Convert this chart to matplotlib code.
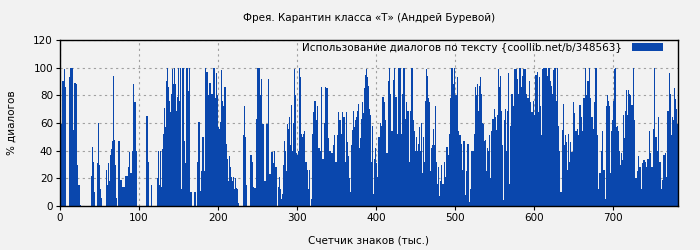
import matplotlib
matplotlib.use('Agg')
import matplotlib.pyplot as plt
import numpy as np

# dialogue share (%) per thousand characters of text
usage = [
    41, 59, 59, 90, 90, 99, 86, 36, 0, 0, 0, 52, 93, 100, 100, 100, 100, 55, 89, 89, 88, 50, 30, 15, 15,
    1, 0, 0, 0, 0, 0, 0, 0, 0, 0, 0, 0, 0, 0, 22, 22, 43, 32, 10, 0, 0, 0, 31, 60, 30, 30,
    12, 6, 0, 0, 0, 0, 0, 26, 15, 15, 31, 18, 37, 41, 41, 47, 94, 48, 30, 30, 6, 0, 23, 47, 47,
    19, 19, 18, 14, 14, 14, 22, 42, 22, 22, 28, 39, 46, 24, 24, 40, 94, 88, 75, 75, 40, 0, 0, 0, 0,
    0, 0, 0, 0, 0, 0, 0, 0, 65, 65, 32, 0, 0, 0, 15, 15, 0, 0, 0, 0, 0, 0, 20, 40, 15, 15,
    40, 14, 41, 52, 52, 71, 57, 90, 100, 100, 86, 76, 68, 81, 81, 99, 88, 100, 88, 88, 69, 79, 100, 76, 76,
    100, 12, 43, 100, 100, 47, 31, 31, 100, 100, 83, 100, 100, 10, 10, 0, 0, 21, 10, 10, 0, 32, 99, 61, 61,
    11, 25, 25, 50, 50, 25, 99, 100, 97, 97, 80, 90, 89, 89, 81, 81, 100, 100, 100, 78, 78, 96, 80, 57, 56, 56,
    61, 98, 76, 72, 72, 86, 86, 45, 34, 34, 18, 36, 28, 21, 21, 18, 21, 12, 20, 20, 13, 12, 2, 0, 0,
    0, 0, 0, 51, 51, 72, 50, 15, 0, 0, 0, 0, 7, 37, 37, 32, 14, 0, 13, 13, 63, 100, 92, 100, 100,
    80, 92, 79, 59, 59, 18, 34, 18, 59, 59, 92, 100, 23, 23, 39, 39, 48, 31, 40, 28, 28, 7, 0, 14, 21, 21,
    12, 5, 9, 30, 30, 47, 40, 25, 59, 59, 56, 64, 44, 73, 73, 40, 60, 99, 80, 80, 38, 37, 40, 100, 100,
    93, 52, 50, 52, 52, 54, 32, 32, 26, 26, 12, 26, 0, 5, 5, 52, 68, 91, 76, 76, 62, 72, 61, 42, 42,
    40, 86, 100, 34, 34, 60, 86, 99, 85, 85, 49, 9, 40, 40, 38, 38, 22, 44, 51, 32, 32, 44, 51, 68, 62, 62,
    44, 52, 68, 64, 64, 42, 32, 68, 46, 46, 36, 20, 10, 44, 44, 55, 69, 57, 62, 62, 64, 69, 74, 42, 42,
    49, 63, 75, 67, 67, 85, 95, 99, 93, 93, 87, 70, 66, 32, 32, 58, 9, 34, 42, 42, 31, 21, 40, 50, 50,
    60, 58, 67, 79, 79, 75, 62, 54, 38, 38, 90, 100, 81, 81, 54, 54, 73, 91, 100, 79, 79, 74, 52, 100, 100, 100,
    79, 52, 81, 100, 100, 100, 63, 75, 69, 69, 60, 32, 69, 100, 100, 100, 62, 54, 40, 40, 50, 40, 45, 57, 57,
    40, 60, 24, 50, 50, 32, 76, 99, 94, 94, 78, 75, 25, 42, 42, 44, 56, 44, 72, 72, 32, 16, 28, 7, 7,
    18, 30, 44, 16, 16, 32, 21, 5, 43, 43, 37, 52, 78, 78, 100, 100, 88, 71, 100, 80, 80, 93, 72, 54, 51, 51,
    42, 45, 26, 47, 47, 47, 8, 25, 45, 45, 22, 3, 12, 40, 40, 45, 40, 52, 86, 86, 80, 88, 69, 87, 87,
    93, 81, 60, 59, 59, 47, 48, 25, 42, 42, 40, 51, 20, 54, 54, 63, 63, 70, 64, 64, 55, 66, 99, 86, 86,
    94, 69, 44, 4, 4, 62, 70, 40, 69, 69, 96, 16, 58, 58, 81, 81, 72, 85, 99, 99, 99, 92, 99, 81, 100, 100,
    86, 85, 94, 99, 99, 75, 99, 81, 78, 78, 75, 90, 75, 68, 68, 84, 76, 66, 95, 95, 99, 97, 68, 93, 93,
    72, 51, 99, 100, 100, 100, 100, 100, 94, 94, 100, 100, 90, 87, 87, 81, 98, 100, 100, 100, 76, 100, 58, 40, 40,
    10, 10, 55, 74, 74, 44, 51, 46, 26, 26, 52, 32, 46, 46, 39, 39, 75, 100, 67, 54, 54, 56, 37, 51, 73, 73,
    64, 51, 54, 78, 78, 100, 54, 80, 90, 90, 100, 100, 78, 64, 64, 85, 56, 75, 100, 100, 25, 51, 12, 24, 24,
    12, 40, 54, 26, 26, 5, 5, 72, 80, 80, 76, 72, 24, 54, 54, 62, 76, 99, 100, 100, 57, 58, 54, 40, 40,
    30, 38, 33, 66, 66, 49, 69, 84, 66, 66, 84, 81, 80, 80, 73, 73, 100, 62, 24, 20, 20, 25, 46, 36, 28, 28,
    12, 26, 31, 33, 33, 32, 19, 28, 34, 34, 54, 59, 38, 28, 28, 56, 34, 100, 50, 50, 20, 40, 64, 32, 32,
    20, 12, 19, 37, 37, 19, 38, 21, 69, 69, 100, 96, 81, 51, 51, 64, 62, 85, 77, 77, 70, 59,
]
chars_k = np.arange(len(usage))

title = 'Фрея. Карантин класса «Т» (Андрей Буревой)'
series_label = 'Использование диалогов по тексту {coollib.net/b/348563}'

bg = '#f2f2f2'
blue = '#0a47ad'

plt.rcParams['font.family'] = 'DejaVu Sans'
plt.rcParams['font.size'] = 7.5

fig = plt.figure(figsize=(7, 2.5), dpi=100, facecolor=bg)
ax = fig.add_axes([60 / 700, 44 / 250, 618 / 700, 166 / 250])
ax.set_facecolor(bg)

ax.bar(chars_k, usage, width=1.0, align='edge', color=blue, linewidth=0,
       label=series_label, zorder=2)

ax.set_xlim(0, 782)
ax.set_ylim(0, 120)
ax.set_xticks(np.arange(0, 800, 100))
ax.set_yticks(np.arange(0, 140, 20))
ax.grid(True, color='#a0a0a0', linestyle=(0, (2, 3)), linewidth=0.8, zorder=1)
ax.set_axisbelow(True)
ax.tick_params(direction='out', length=3, width=0.8, pad=2)
for s in ax.spines.values():
    s.set_linewidth(1.0)
    s.set_color('black')

ax.set_title(title, fontsize=7.5, pad=14)
ax.set_xlabel('Счетчик знаков (тыс.)', labelpad=9)
ax.set_ylabel('% диалогов', labelpad=12)

leg = ax.legend(loc='upper right', bbox_to_anchor=(1 - 12 / 618, 1.0),
                frameon=False, markerfirst=False,
                handlelength=3.0, handleheight=0.7, borderaxespad=0.0,
                borderpad=0.25, handletextpad=1.0, fontsize=7.5)

plt.savefig('out.png', dpi=100, facecolor=bg)
